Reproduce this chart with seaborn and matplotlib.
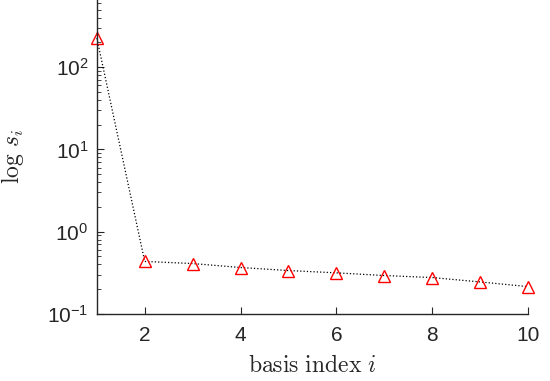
import numpy as np
import pandas as pd
import seaborn as sns
import matplotlib
matplotlib.use("Agg")
import matplotlib.pyplot as plt
from matplotlib.ticker import LogLocator, FixedLocator, NullFormatter

basis_index = [1, 2, 3, 4, 5, 6, 7, 8, 9, 10]
singular_values = [226, 0.435, 0.41, 0.367, 0.337, 0.316, 0.293, 0.277, 0.245, 0.215]
x_ticks = [2, 4, 6, 8, 10]
y_ticks = [0.1, 1, 10, 100]
y_tick_labels = [r"$10^{-1}$", r"$10^{0}$", r"$10^{1}$", r"$10^{2}$"]

sns.set_style("ticks")
plt.rcParams['font.family'] = ['Liberation Sans', 'DejaVu Sans']
plt.rcParams['mathtext.fontset'] = 'custom'
plt.rcParams['mathtext.rm'] = 'Liberation Sans'
plt.rcParams['mathtext.it'] = 'Liberation Sans:italic'

df = pd.DataFrame({"i": basis_index, "s": singular_values})

fig = plt.figure(figsize=(5.5, 3.81), dpi=100)
ax = fig.add_axes([0.176, 0.176, 0.784, 0.824])
sns.lineplot(data=df, x="i", y="s", ax=ax, color="black", linestyle=":", linewidth=0.9,
             marker="^", markersize=9, markerfacecolor="none", markeredgecolor="red",
             markeredgewidth=1.0, clip_on=False)
ax.set_yscale("log")
ax.set_xlim(1, 10)
ax.set_ylim(0.1, 10 ** 2.817)
ax.xaxis.set_major_locator(FixedLocator(x_ticks))
ax.yaxis.set_major_locator(FixedLocator(y_ticks))
ax.set_yticklabels(y_tick_labels)
ax.yaxis.set_minor_locator(LogLocator(base=10, subs=np.arange(2, 10)))
ax.yaxis.set_minor_formatter(NullFormatter())
for s in ["top", "right"]:
    ax.spines[s].set_visible(False)
for s in ["left", "bottom"]:
    ax.spines[s].set_color("#262626")
    ax.spines[s].set_linewidth(1.0)
ax.tick_params(axis="both", which="major", direction="in", length=5, width=0.8,
               color="#262626", labelsize=15, labelcolor="#262626")
ax.tick_params(axis="x", which="major", pad=9)
ax.tick_params(axis="y", which="major", pad=6)
ax.tick_params(axis="y", which="minor", direction="in", length=3, width=0.6, color="#262626")
ax.set_xlabel(r"$\mathrm{basis\ index}\ i$", fontsize=17, math_fontfamily="cm", color="#262626")
ax.set_ylabel(r"$\log\,s_i$", fontsize=17, math_fontfamily="cm", color="#262626")
ax.xaxis.set_label_coords(0.5, -0.13)
ax.yaxis.set_label_coords(-0.165, 0.5)
fig.savefig("out.png", dpi=100)
